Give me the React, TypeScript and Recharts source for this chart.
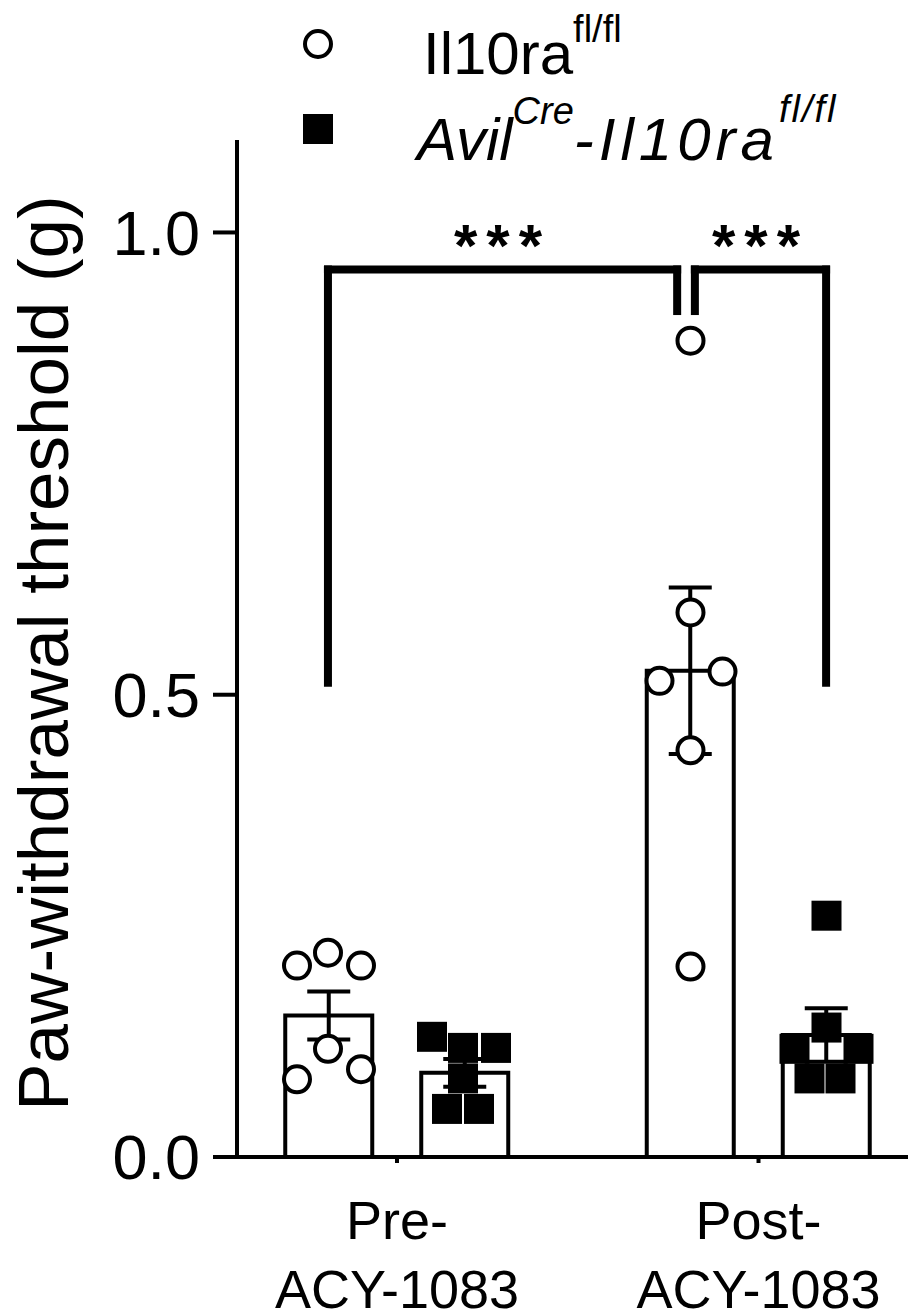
import {
  Bar,
  ComposedChart,
  ErrorBar,
  Legend,
  ReferenceLine,
  Scatter,
  XAxis,
  YAxis,
} from "recharts";

const FONT = '"Liberation Sans", Arial, Helvetica, sans-serif';

// groups on the x axis
const CATEGORIES = ["Pre-ACY-1083", "Post-ACY-1083"];

// bar heights (mean) and error bars (SEM), per category
const WT_MEAN = [0.153, 0.526];
const WT_SEM = [0.026, 0.09];
const KO_MEAN = [0.091, 0.132];
const KO_SEM = [0.015, 0.029];

// individual animals
const PRE_WT = [0.207, 0.221, 0.207, 0.117, 0.095, 0.084];
const POST_WT = [0.883, 0.589, 0.515, 0.525, 0.44, 0.206];
const PRE_KO = [0.13, 0.118, 0.118, 0.085, 0.052, 0.052];
const POST_KO = [0.261, 0.14, 0.117, 0.117, 0.085, 0.085];

const Y_TICKS = [0, 0.5, 1.0];

// significance brackets: x as a fraction of the category range (0..1), y in grams
const BRACKETS = [
  { x1: 0.1545, x2: 0.6375, y: 0.96, leg1: 0.513, leg2: 0.915, label: "***" },
  { x1: 0.662, x2: 0.8435, y: 0.96, leg1: 0.915, leg2: 0.513, label: "***" },
];

// layout
const W = 908;
const H = 1315;
const BAR_SIZE = 87;
const BAR_GAP = 49;
const SHIFT = (BAR_SIZE + BAR_GAP) / 2;
const X_PAD = { left: -20.75, right: -31.25 };
// horizontal scatter of the dots inside a bar (px), same order as the data
const WT_JITTER = [
  [-32, -1, 32, -1, 32, -32],
  [0, 0, -31, 32, 0, 0],
];
const KO_JITTER = [
  [-33, -2, 31, -2, -18, 14],
  [0, 0, -32, 32, -17, 14],
];

const rows = CATEGORIES.map((cat, i) => ({
  cat,
  wt: WT_MEAN[i],
  wtErr: WT_SEM[i],
  ko: KO_MEAN[i],
  koErr: KO_SEM[i],
}));

const wtPoints = [PRE_WT, POST_WT].flatMap((vals, g) =>
  vals.map((value, i) => ({ cat: CATEGORIES[g], value, g, i }))
);
const koPoints = [PRE_KO, POST_KO].flatMap((vals, g) =>
  vals.map((value, i) => ({ cat: CATEGORIES[g], value, g, i }))
);

function OpenCircle(p: any) {
  if (p.cx == null || p.cy == null) return <g />;
  const dx = -SHIFT + WT_JITTER[p.payload.g][p.payload.i];
  return (
    <circle cx={p.cx + dx} cy={p.cy} r={13} fill="#fff" stroke="#000" strokeWidth={4} />
  );
}

function FilledSquare(p: any) {
  if (p.cx == null || p.cy == null) return <g />;
  const dx = SHIFT + KO_JITTER[p.payload.g][p.payload.i];
  return <rect x={p.cx + dx - 15} y={p.cy - 15} width={30} height={30} fill="#000" />;
}

function XTick({ x, y, payload }: any) {
  const s = String(payload.value);
  const k = s.indexOf("-") + 1;
  return (
    <text x={x} y={y} textAnchor="middle" fontSize={54} fontFamily={FONT} fill="#000">
      <tspan x={x} dy={74}>{s.slice(0, k)}</tspan>
      <tspan x={x} dy={69}>{s.slice(k)}</tspan>
    </text>
  );
}

function YTitle() {
  return (
    <text
      x={43}
      y={653}
      transform="rotate(-90, 43, 653)"
      textAnchor="middle"
      dy="0.355em"
      fontSize={71}
      fontFamily={FONT}
      fill="#000"
    >
      Paw-withdrawal threshold (g)
    </text>
  );
}

function LegendBox() {
  return (
    <svg width={W} height={180} style={{ display: "block", overflow: "visible" }}>
      <circle cx={318} cy={44} r={13} fill="#fff" stroke="#000" strokeWidth={4} />
      <rect x={303} y={114} width={30} height={30} fill="#000" />
      <text x={423} y={74} fontSize={60} fontFamily={FONT} fill="#000">
        Il10ra
        <tspan fontSize={38} dy={-32}>fl/fl</tspan>
      </text>
      <text x={417} y={160} fontSize={60} fontFamily={FONT} fontStyle="italic" fill="#000">
        Avil
        <tspan fontSize={38} dy={-36}>Cre</tspan>
        <tspan dy={36} letterSpacing={5}>-Il10ra</tspan>
        <tspan fontSize={38} dy={-38} letterSpacing={2}>fl/fl</tspan>
      </text>
    </svg>
  );
}

export default function App() {
  const line = { stroke: "#000", strokeWidth: 8, strokeLinecap: "square" as const };
  return (
    <div
      style={{
        position: "absolute",
        left: 0,
        top: 0,
        width: W,
        height: H,
        background: "#fff",
        fontFamily: FONT,
      }}
    >
      <ComposedChart
        width={W}
        height={H}
        data={rows}
        margin={{ top: 0, right: 0, bottom: 0, left: 0 }}
        barGap={BAR_GAP}
      >
        <Legend
          verticalAlign="top"
          align="left"
          content={LegendBox}
          wrapperStyle={{
            top: 0,
            left: 0,
            width: W,
            height: 140,
            margin: 0,
            padding: 0,
            overflow: "visible",
          }}
        />
        <XAxis
          dataKey="cat"
          type="category"
          allowDuplicatedCategory={false}
          padding={X_PAD}
          height={158}
          axisLine={{ stroke: "#000", strokeWidth: 4 }}
          tickLine={{ stroke: "#000", strokeWidth: 4 }}
          tickSize={6}
          tickMargin={2}
          tick={<XTick />}
          interval={0}
        />
        <XAxis
          xAxisId="n"
          type="number"
          domain={[0, 1]}
          allowDataOverflow
          padding={X_PAD}
          hide
        />
        <YAxis
          type="number"
          domain={[0, 1.1]}
          allowDataOverflow
          ticks={Y_TICKS}
          interval={0}
          tickFormatter={(v: number) => v.toFixed(1)}
          width={237}
          axisLine={{ stroke: "#000", strokeWidth: 4 }}
          tickLine={{ stroke: "#000", strokeWidth: 4 }}
          tickSize={24}
          tickMargin={13}
          tick={{ fill: "#000", fontSize: 63, fontFamily: FONT }}
          label={{ content: YTitle }}
        />
        <Bar
          dataKey="wt"
          barSize={BAR_SIZE}
          fill="#fff"
          stroke="#000"
          strokeWidth={4}
          isAnimationActive={false}
        >
          <ErrorBar dataKey="wtErr" direction="y" width={21.5} stroke="#000" strokeWidth={4} />
        </Bar>
        <Bar
          dataKey="ko"
          barSize={BAR_SIZE}
          fill="#fff"
          stroke="#000"
          strokeWidth={4}
          isAnimationActive={false}
        >
          <ErrorBar dataKey="koErr" direction="y" width={21.5} stroke="#000" strokeWidth={4} />
        </Bar>
        <Scatter data={wtPoints} dataKey="value" shape={OpenCircle} isAnimationActive={false} />
        <Scatter data={koPoints} dataKey="value" shape={FilledSquare} isAnimationActive={false} />
        {BRACKETS.map((b, k) => [
          <ReferenceLine
            key={`l${k}`}
            xAxisId="n"
            ifOverflow="visible"
            segment={[{ x: b.x1, y: b.leg1 }, { x: b.x1, y: b.y }]}
            {...line}
          />,
          <ReferenceLine
            key={`t${k}`}
            xAxisId="n"
            ifOverflow="visible"
            segment={[{ x: b.x1, y: b.y }, { x: b.x2, y: b.y }]}
            {...line}
            label={{
              value: b.label,
              position: "top",
              offset: 3,
              fontSize: 60,
              fontWeight: 700,
              fill: "#000",
              fontFamily: FONT,
              letterSpacing: 9,
            }}
          />,
          <ReferenceLine
            key={`r${k}`}
            xAxisId="n"
            ifOverflow="visible"
            segment={[{ x: b.x2, y: b.y }, { x: b.x2, y: b.leg2 }]}
            {...line}
          />,
        ])}
      </ComposedChart>
    </div>
  );
}
